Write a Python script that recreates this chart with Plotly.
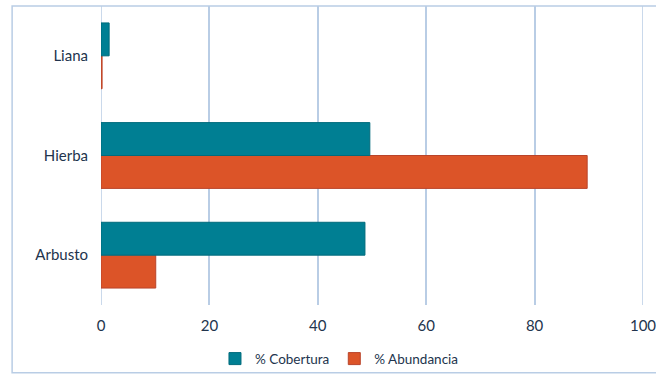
import plotly.graph_objects as go

categories = ["Arbusto", "Hierba", "Liana"]
cobertura = [48.7, 49.6, 1.5]
abundancia = [10.1, 89.7, 0.2]
x_ticks = [0, 20, 40, 60, 80, 100]

font_family = "Lato, 'Open Sans', sans-serif"
text_color = "#22344d"
grid_color = "#b9cde5"

fig = go.Figure()

# Abundancia first so it sits below Cobertura within each group
fig.add_trace(go.Bar(
    y=categories, x=abundancia, orientation="h", name="% Abundancia",
    marker=dict(color="#dc5428", line=dict(color="#b9442a", width=1)),
))
fig.add_trace(go.Bar(
    y=categories, x=cobertura, orientation="h", name="% Cobertura",
    marker=dict(color="#007f93", line=dict(color="#006b7c", width=1)),
))

# Outer chart border
fig.add_shape(type="rect", xref="paper", yref="paper",
              x0=-0.164, x1=1.04, y0=-0.227, y1=1.0,
              line=dict(color=grid_color, width=1.5), layer="below")

fig.update_layout(
    width=656, height=375,
    margin=dict(l=101, r=13, t=6, b=70, autoexpand=False),
    paper_bgcolor="white", plot_bgcolor="white",
    barmode="group", bargap=0.34, bargroupgap=0,
    font=dict(family=font_family, size=15, color=text_color),
    showlegend=True,
    legend=dict(orientation="h", traceorder="reversed",
                x=0.44, xanchor="center", y=-0.18, yanchor="middle",
                bgcolor="rgba(0,0,0,0)",
                font=dict(size=13.5, color=text_color),
                itemwidth=30),
    xaxis=dict(range=[0, 100], tickvals=x_ticks, showgrid=True,
               gridcolor=grid_color, gridwidth=1.5, zeroline=False,
               showline=False, ticks="", ticklabelstandoff=10,
               ticklabeloverflow="allow",
               automargin=False, fixedrange=True),
    yaxis=dict(categoryorder="array", categoryarray=categories,
               showgrid=False, zeroline=False, showline=False,
               ticks="", ticklabelstandoff=12, automargin=False,
               fixedrange=True),
)

# Left and right edges of the plot area drawn as grid-coloured lines
for edge in (0, 100):
    fig.add_shape(type="line", xref="x", yref="paper", x0=edge, x1=edge,
                  y0=0, y1=1, line=dict(color=grid_color, width=1.5),
                  layer="below")

fig.write_html("out.html")
